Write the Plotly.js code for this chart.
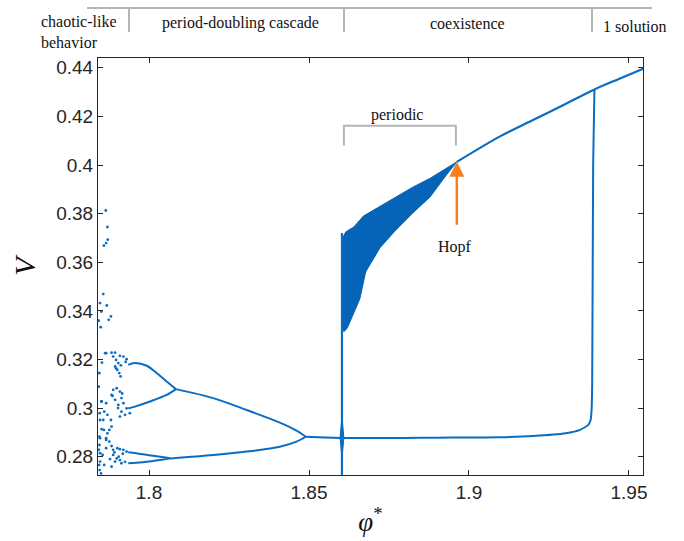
<!DOCTYPE html>
<html>
<head>
<meta charset="utf-8">
<script src="https://cdn.plot.ly/plotly-3.0.1.min.js"></script>
<style>
  html, body { margin: 0; padding: 0; background: #ffffff; }
  #chart { width: 684px; height: 541px; }
</style>
</head>
<body>
<div id="chart"></div>
<script>
// ---------- data ----------
// chaotic-like region: scattered points (phi*, V)
const chaosX = [1.7865, 1.7870, 1.7871, 1.7866, 1.7859, 1.7857, 1.7847, 1.7868, 1.7851, 1.7881,
  1.7874, 1.7843, 1.7849, 1.7863, 1.7845, 1.7853, 1.7843, 1.7851, 1.7846, 1.7857,
  1.7859, 1.7847, 1.7845, 1.7843, 1.7866, 1.7883, 1.7894, 1.7909, 1.7920, 1.7930,
  1.7888, 1.7897, 1.7904, 1.7894, 1.7901, 1.7907, 1.7911, 1.7841, 1.7888, 1.7899,
  1.7909, 1.7883, 1.7894, 1.7914, 1.7920, 1.7930, 1.7904, 1.7914, 1.7925, 1.7940,
  1.7909, 1.7852, 1.7866, 1.7860, 1.7870, 1.7881, 1.7883, 1.7876, 1.7870, 1.7866,
  1.7847, 1.7852, 1.7845, 1.7866, 1.7876, 1.7883, 1.7866, 1.7847, 1.7855, 1.7888,
  1.7901, 1.7909, 1.7920, 1.7930, 1.7888, 1.7899, 1.7909, 1.7894, 1.7914, 1.7847,
  1.7860, 1.7883, 1.7844, 1.7846, 1.7850, 1.7878, 1.7892, 1.7905, 1.7918, 1.7925,
  1.7897, 1.7912, 1.7927, 1.7886, 1.7903, 1.7916];
const chaosY = [0.3813, 0.3745, 0.3693, 0.3679, 0.3668, 0.3469, 0.3432, 0.3422, 0.3397, 0.3377,
  0.3363, 0.3360, 0.3333, 0.3226, 0.3144, 0.3187, 0.3088, 0.3027, 0.2979, 0.2951,
  0.2910, 0.2876, 0.2848, 0.2828, 0.3226, 0.3228, 0.3228, 0.3215, 0.3212, 0.3201,
  0.3212, 0.3198, 0.3185, 0.3171, 0.3157, 0.3144, 0.3130, 0.3144, 0.3075, 0.3082,
  0.3068, 0.3054, 0.3034, 0.3041, 0.3020, 0.2999, 0.3013, 0.2985, 0.2972, 0.2979,
  0.2965, 0.3027, 0.3020, 0.2985, 0.2972, 0.2951, 0.2924, 0.2910, 0.2896, 0.2876,
  0.2951, 0.2913, 0.2882, 0.2869, 0.2862, 0.2844, 0.2835, 0.2814, 0.2807, 0.2828,
  0.2835, 0.2831, 0.2828, 0.2821, 0.2807, 0.2793, 0.2786, 0.2780, 0.2773, 0.2780,
  0.2766, 0.2759, 0.2766, 0.2745, 0.2731, 0.2790, 0.2818, 0.2800, 0.2812, 0.2779,
  0.3163, 0.3176, 0.3190, 0.3050, 0.3000, 0.3060];

// period-4 branches
const p4aX = [1.7935, 1.7955, 1.7993, 1.8024, 1.8055, 1.8084];
const p4aY = [0.3178, 0.3185, 0.3174, 0.3144, 0.3109, 0.3078];
const p4bX = [1.7935, 1.7956, 1.8003, 1.8055, 1.8084];
const p4bY = [0.2998, 0.3006, 0.3027, 0.3054, 0.3078];
const p4cX = [1.7935, 1.7960, 1.8000, 1.8040, 1.8070];
const p4cY = [0.2818, 0.2814, 0.2806, 0.2799, 0.2793];
const p4dX = [1.7935, 1.7960, 1.8000, 1.8040, 1.8070];
const p4dY = [0.2773, 0.2775, 0.2780, 0.2787, 0.2793];

// period-2 branches
const p2upX = [1.8084, 1.8201, 1.8305, 1.8409, 1.8461, 1.8490];
const p2upY = [0.3078, 0.3041, 0.2992, 0.2940, 0.2907, 0.2882];
const p2loX = [1.8070, 1.8201, 1.8305, 1.8409, 1.8461, 1.8490];
const p2loY = [0.2793, 0.2807, 0.2821, 0.2841, 0.2862, 0.2882];

// lower equilibrium branch and its fold up to the upper branch
const lowX = [1.8490, 1.8550, 1.8603, 1.8700, 1.8800, 1.8900, 1.9000, 1.9097, 1.9201, 1.9302,
  1.9347, 1.9373, 1.9380, 1.9383, 1.9385, 1.9388, 1.9392];
const lowY = [0.2882, 0.2879, 0.2877, 0.2877, 0.2877, 0.2878, 0.2879, 0.2880, 0.2885, 0.2896,
  0.2910, 0.2931, 0.2951, 0.2990, 0.3100, 0.4000, 0.4311];

// upper equilibrium branch from Hopf point to the right edge
const upX = [1.8962, 1.9097, 1.9200, 1.9300, 1.9392, 1.9470, 1.9544];
const upY = [0.4013, 0.4118, 0.4185, 0.4250, 0.4311, 0.4355, 0.4396];

// jump at phi* ~ 1.8603
const jumpX = [1.8603, 1.8603];
const jumpY = [0.2725, 0.3720];
const spindleX = [1.8597, 1.8603, 1.8609, 1.8603, 1.8597];
const spindleY = [0.2877, 0.2965, 0.2877, 0.2795, 0.2877];

// periodic band (max / min envelopes)
const bandTopX = [1.8605, 1.8615, 1.8640, 1.8670, 1.8722, 1.8771, 1.8823, 1.8878, 1.8917, 1.8962];
const bandTopY = [0.3700, 0.3725, 0.3745, 0.3790, 0.3830, 0.3868, 0.3908, 0.3945, 0.3978, 0.4013];
const bandBotX = [1.8927, 1.8878, 1.8822, 1.8771, 1.8722, 1.8677, 1.8659, 1.8635, 1.8620, 1.8610, 1.8605];
const bandBotY = [0.3955, 0.3868, 0.3800, 0.3732, 0.3660, 0.3560, 0.3450, 0.3380, 0.3330, 0.3315, 0.3320];

// Hopf point
const hopfX = 1.8962, hopfY = 0.4013;

// axes ticks
const xTickVals = [1.8, 1.85, 1.9, 1.95];
const xTickText = ['1.8', '1.85', '1.9', '1.95'];
const yTickVals = [0.28, 0.30, 0.32, 0.34, 0.36, 0.38, 0.40, 0.42, 0.44];
const yTickText = ['0.28', '0.3', '0.32', '0.34', '0.36', '0.38', '0.4', '0.42', '0.44'];

// header regions
const regionLabels = ['period-doubling cascade', 'coexistence', '1 solution'];

// ---------- drawing ----------
const blue = '#0a6dc2';
const gray = '#b5b5b5';
const orange = '#f7801e';

const lineTrace = (x, y, w, sm) => ({x, y, type: 'scatter', mode: 'lines',
  line: {color: blue, width: w || 2, shape: 'spline', smoothing: sm == null ? 0.9 : sm},
  hoverinfo: 'skip', showlegend: false});

const traces = [
  {x: bandTopX.concat(bandBotX), y: bandTopY.concat(bandBotY), type: 'scatter', mode: 'lines',
   fill: 'toself', fillcolor: '#0563b8', line: {color: '#0563b8', width: 1}, showlegend: false},
  {x: spindleX, y: spindleY, type: 'scatter', mode: 'lines', fill: 'toself',
   fillcolor: blue, line: {color: blue, width: 1}, showlegend: false},
  {x: jumpX, y: jumpY, type: 'scatter', mode: 'lines', line: {color: blue, width: 2.2}, showlegend: false},
  lineTrace(p4aX, p4aY), lineTrace(p4bX, p4bY), lineTrace(p4cX, p4cY), lineTrace(p4dX, p4dY),
  lineTrace(p2upX, p2upY), lineTrace(p2loX, p2loY),
  lineTrace(lowX, lowY, 2, 0.5),
  lineTrace(upX, upY, 2.2),
  {x: chaosX, y: chaosY, type: 'scatter', mode: 'markers',
   marker: {color: blue, size: 2.8}, showlegend: false}
];

// plot area in pixels: x 98..643, y 58..475
const W = 684, H = 541, L = 98, R = 41, T = 58, B = 66;
const pw = W - L - R, ph = H - T - B;
const px = v => (v - L) / pw;           // pixel -> paper x
const py = v => (H - B - v) / ph;       // pixel -> paper y

const shapes = [
  // header line and dividers
  {type: 'line', xref: 'paper', yref: 'paper', x0: px(87), x1: px(652), y0: py(8), y1: py(8),
   line: {color: gray, width: 2}},
  {type: 'line', xref: 'paper', yref: 'paper', x0: px(129), x1: px(129), y0: py(8), y1: py(32),
   line: {color: gray, width: 2}},
  {type: 'line', xref: 'paper', yref: 'paper', x0: px(344), x1: px(344), y0: py(8), y1: py(32),
   line: {color: gray, width: 2}},
  {type: 'line', xref: 'paper', yref: 'paper', x0: px(592), x1: px(592), y0: py(8), y1: py(32),
   line: {color: gray, width: 2}},
  // periodic bracket
  {type: 'path', xref: 'x', yref: 'y', path: 'M 1.8609,0.4080 V 0.4162 H 1.8959 V 0.4080',
   line: {color: gray, width: 2}}
];

const serif = 'Liberation Serif, Times New Roman, serif';
const annotations = [
  {xref: 'paper', yref: 'paper', x: px(39), y: py(32), xanchor: 'left', yanchor: 'middle',
   text: 'chaotic-like<br>behavior', align: 'left', showarrow: false,
   font: {family: serif, size: 16, color: '#111'}},
  {xref: 'paper', yref: 'paper', x: px(240), y: py(23), xanchor: 'center', yanchor: 'middle',
   text: regionLabels[0], showarrow: false, font: {family: serif, size: 16, color: '#111'}},
  {xref: 'paper', yref: 'paper', x: px(467), y: py(23), xanchor: 'center', yanchor: 'middle',
   text: regionLabels[1], showarrow: false, font: {family: serif, size: 16, color: '#111'}},
  {xref: 'paper', yref: 'paper', x: px(601), y: py(26), xanchor: 'left', yanchor: 'middle',
   text: regionLabels[2], showarrow: false, font: {family: serif, size: 16, color: '#111'}},
  {xref: 'x', yref: 'y', x: 1.8775, y: 0.4207, text: 'periodic', showarrow: false,
   xanchor: 'center', yanchor: 'middle', font: {family: serif, size: 16, color: '#111'}},
  {xref: 'x', yref: 'y', x: hopfX, y: hopfY, text: ' ', showarrow: true,
   axref: 'pixel', ayref: 'pixel', ax: 0, ay: 73, arrowhead: 2, arrowsize: 1.2,
   arrowwidth: 2.5, arrowcolor: orange, standoff: 0},
  {xref: 'x', yref: 'y', x: 1.8956, y: 0.3664, text: 'Hopf', showarrow: false,
   xanchor: 'center', yanchor: 'middle', font: {family: serif, size: 16, color: '#111'}}
];

const axisCommon = {
  showgrid: false, zeroline: false, showline: true, mirror: 'ticks',
  linecolor: '#262626', linewidth: 1, ticks: 'inside', ticklen: 5, tickwidth: 1,
  tickcolor: '#262626', tickmode: 'array',
  tickfont: {family: 'Liberation Sans, Arial, sans-serif', size: 19, color: '#262626'}
};

const layout = {
  width: W, height: H,
  margin: {l: L, r: R, t: T, b: B, pad: 0},
  paper_bgcolor: '#ffffff', plot_bgcolor: '#ffffff',
  showlegend: false,
  xaxis: Object.assign({}, axisCommon, {
    range: [1.78406, 1.95438], tickvals: xTickVals, ticktext: xTickText,
    title: {text: '<i>φ</i><sup>*</sup>', font: {family: serif, size: 27, color: '#111'}, standoff: 10}
  }),
  yaxis: Object.assign({}, axisCommon, {
    range: [0.27246, 0.44404], tickvals: yTickVals, ticktext: yTickText,
    title: {text: '<i>V</i>', font: {family: serif, size: 30, color: '#111'}, standoff: 11}
  }),
  shapes, annotations
};

Plotly.newPlot('chart', traces, layout, {displayModeBar: false, staticPlot: true});
</script>
</body>
</html>
